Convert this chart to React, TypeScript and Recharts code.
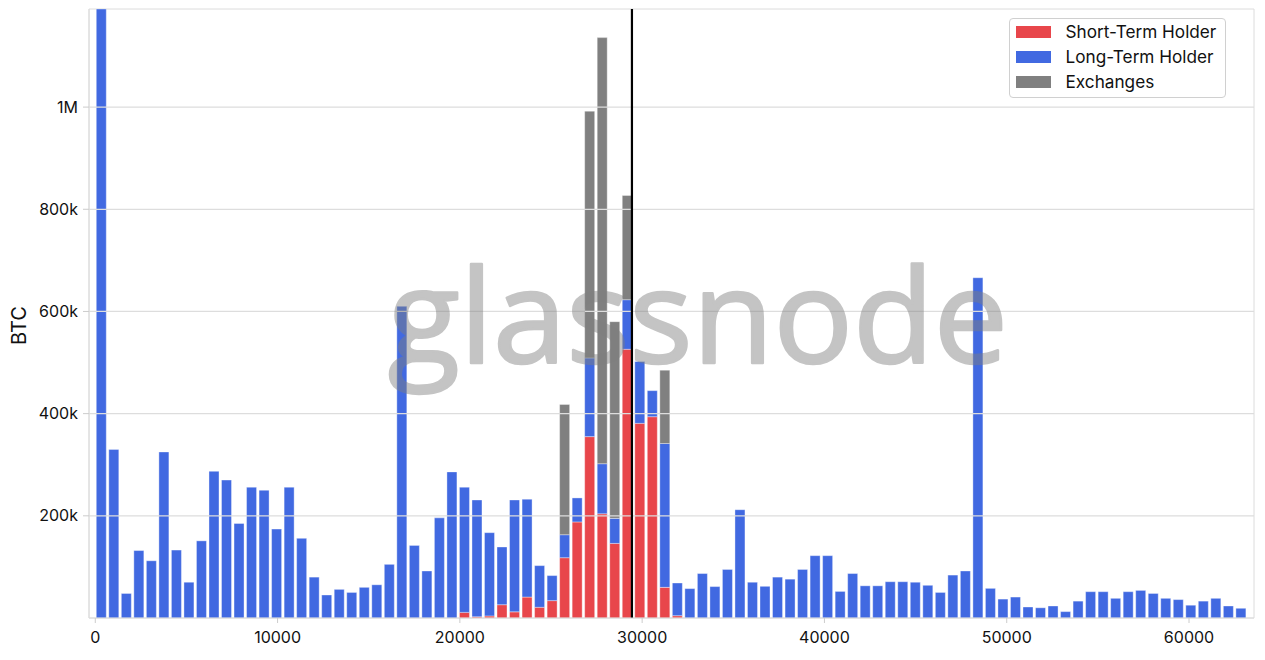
import React from 'react';
import { BarChart, Bar, XAxis, YAxis, ReferenceLine, ReferenceArea, Legend } from 'recharts';

// Price bucket centres (USD)
const priceBins = [
  343, 1030, 1717, 2404, 3091, 3778, 4465, 5152, 5839, 6526,
  7213, 7900, 8587, 9274, 9961, 10648, 11335, 12022, 12709, 13396,
  14083, 14770, 15457, 16144, 16831, 17518, 18205, 18892, 19579, 20266,
  20953, 21640, 22327, 23014, 23701, 24388, 25075, 25762, 26449, 27136,
  27823, 28510, 29197, 29884, 30571, 31258, 31945, 32632, 33319, 34006,
  34693, 35380, 36067, 36754, 37441, 38128, 38815, 39502, 40189, 40876,
  41563, 42250, 42937, 43624, 44311, 44998, 45685, 46372, 47059, 47746,
  48433, 49120, 49807, 50494, 51181, 51868, 52555, 53242, 53929, 54616,
  55303, 55990, 56677, 57364, 58051, 58738, 59425, 60112, 60799, 61486,
  62173, 62860,
];

// Supply in each bucket, thousands of BTC
const shortTermHolderK = [
  0, 0, 0, 0, 0, 0, 0, 0, 0, 0,
  0, 0, 0, 0, 0, 0, 0, 0, 0, 0,
  0, 0, 0, 0, 0, 0, 0, 0, 0, 11,
  2.5, 4, 26, 12, 41, 21, 34, 118, 188, 355,
  204, 146, 526, 381, 394, 60, 4.5, 0, 0, 0,
  0, 0, 0, 0, 0, 0, 0, 0, 0, 0,
  0, 0, 0, 0, 0, 0, 0, 0, 0, 0,
  0, 0, 0, 0, 0, 0, 0, 0, 0, 0,
  0, 0, 0, 0, 0, 0, 0, 0, 0, 0,
  0, 0,
];

const longTermHolderK = [
  1250, 330, 48, 132, 112, 325, 133, 70, 151, 287,
  270, 185, 256, 250, 174, 256, 156, 80, 45, 56,
  50, 60, 65, 105, 610, 142, 92, 196, 286, 245,
  228.5, 163, 113, 219, 191.5, 81.5, 49, 45, 47, 154,
  98, 49, 97, 121, 51, 281.5, 64, 57.5, 87, 61.5,
  95, 212, 70, 62, 80, 76, 95, 122, 122, 52,
  87, 63, 63, 71, 71, 70, 64, 50, 84, 92,
  666, 58, 37, 41, 21.5, 20, 23.5, 12.5, 33, 51.5,
  51.5, 38.5, 51.5, 54, 48, 38.5, 36, 25, 33, 38.5,
  23.5, 19,
];

const exchangesK = [
  0, 0, 0, 0, 0, 0, 0, 0, 0, 0,
  0, 0, 0, 0, 0, 0, 0, 0, 0, 0,
  0, 0, 0, 0, 0, 0, 0, 0, 0, 0,
  0, 0, 0, 0, 0, 0, 0, 255, 0, 483,
  834, 385, 204, 0, 0, 143.5, 0, 0, 0, 0,
  0, 0, 0, 0, 0, 0, 0, 0, 0, 0,
  0, 0, 0, 0, 0, 0, 0, 0, 0, 0,
  0, 0, 0, 0, 0, 0, 0, 0, 0, 0,
  0, 0, 0, 0, 0, 0, 0, 0, 0, 0,
  0, 0,
];

const xTicks = [0, 10000, 20000, 30000, 40000, 50000, 60000];
const yTicks = [200000, 400000, 600000, 800000, 1000000];
const xDomain = [-345, 63565];
const yDomain = [0, 1192000];
const currentPrice = 29440;

const seriesNames = ['Short-Term Holder', 'Long-Term Holder', 'Exchanges'];
const seriesColors = ['#e8464b', '#4169e1', '#808080'];

const data = priceBins.map((price, i) => ({
  price,
  sth: shortTermHolderK[i] * 1000,
  lth: longTermHolderK[i] * 1000,
  exch: exchangesK[i] * 1000,
}));

const FONT = 'Inter, "Noto Sans", sans-serif';

const formatY = (v: number) => (v >= 1000000 ? `${v / 1000000}M` : `${v / 1000}k`);

const renderLegend = (props: any) => {
  const payload = (props && props.payload) || [];
  const items = seriesNames.map((name, i) => {
    const p = payload.find((e: any) => e.value === name);
    return { name, color: p && p.color ? p.color : seriesColors[i] };
  });
  return (
    <div
      style={{
        boxSizing: 'border-box',
        width: 217,
        height: 80,
        border: '1px solid #d0d0d0',
        borderRadius: 4,
        background: 'rgba(255,255,255,0.85)',
        padding: '0 0 0 6px',
        fontFamily: FONT,
        fontSize: 17.2,
        color: '#111',
      }}
    >
      {items.map((it) => (
        <div key={it.name} style={{ display: 'flex', alignItems: 'center', height: 25 }}>
          <span style={{ display: 'inline-block', flex: 'none', width: 35, height: 12, background: it.color, marginRight: 14.5 }} />
          <span style={{ lineHeight: '25px', whiteSpace: 'nowrap' }}>{it.name}</span>
        </div>
      ))}
    </div>
  );
};

const renderYLabel = (props: any) => {
  const vb = props.viewBox || { x: 0, y: 0, width: 0, height: 0 };
  const cx = 10.5;
  const cy = vb.y + vb.height / 2 + 12;
  return (
    <text
      x={cx}
      y={cy}
      transform={`rotate(-90, ${cx}, ${cy})`}
      textAnchor="middle"
      dominantBaseline="central"
      fontFamily={FONT}
      fontSize={20}
      fill="#111"
    >
      BTC
    </text>
  );
};

export default function App() {
  const W = 1257;
  const H = 650;
  return (
    <div style={{ position: 'relative', width: W, height: H, fontFamily: FONT }}>
      <BarChart
        width={W}
        height={H}
        data={data}
        margin={{ top: 1, right: 11, bottom: 10, left: 0 }}
        barGap={0}
      >
        <XAxis
          dataKey="price"
          type="number"
          domain={xDomain}
          ticks={xTicks}
          allowDataOverflow
          interval={0}
          height={30}
          tickSize={5}
          tickMargin={9}
          axisLine={{ stroke: '#dcdcdc' }}
          tickLine={{ stroke: '#cccccc' }}
          tick={{ fill: '#111', fontSize: 16, fontFamily: FONT }}
        />
        <YAxis
          type="number"
          domain={yDomain}
          ticks={yTicks}
          allowDataOverflow
          interval={0}
          width={81}
          tickSize={6}
          tickMargin={5}
          tickFormatter={formatY}
          axisLine={{ stroke: '#dcdcdc' }}
          tickLine={{ stroke: '#cccccc' }}
          tick={{ fill: '#111', fontSize: 16, fontFamily: FONT }}
          label={{ content: renderYLabel }}
        />
        <Bar
          dataKey="sth"
          name={seriesNames[0]}
          stackId="s"
          fill={seriesColors[0]}
          barSize={10}
          stroke="#ffffff"
          strokeWidth={0.8}
          strokeOpacity={0.45}
          isAnimationActive={false}
        />
        <Bar
          dataKey="lth"
          name={seriesNames[1]}
          stackId="s"
          fill={seriesColors[1]}
          barSize={10}
          stroke="#ffffff"
          strokeWidth={0.8}
          strokeOpacity={0.45}
          isAnimationActive={false}
        />
        <Bar
          dataKey="exch"
          name={seriesNames[2]}
          stackId="s"
          fill={seriesColors[2]}
          barSize={10}
          stroke="#ffffff"
          strokeWidth={0.8}
          strokeOpacity={0.45}
          isAnimationActive={false}
        />
        {yTicks.map((t) => (
          <ReferenceLine key={t} y={t} stroke="#dddddd" strokeWidth={1.2} />
        ))}
        <ReferenceArea
          x1={xDomain[0]}
          x2={xDomain[1]}
          y1={yDomain[0]}
          y2={yDomain[1]}
          fill="none"
          fillOpacity={0}
          stroke="#dcdcdc"
          strokeWidth={1}
        />
        <ReferenceLine x={currentPrice} stroke="#000000" strokeWidth={2.2} />
        <Legend
          layout="vertical"
          align="center"
          verticalAlign="middle"
          content={renderLegend}
          wrapperStyle={{ left: 1001, top: 10, width: 217, height: 80 }}
        />
      </BarChart>
      <svg
        width={W}
        height={H}
        style={{ position: 'absolute', left: 0, top: 0, pointerEvents: 'none' }}
      >
        <g opacity={0.46}>
          <text
            x={380}
            y={355}
            fontFamily='"Open Sans", sans-serif'
            fontSize={130}
            fill="#7f7f7f"
            stroke="#7f7f7f"
            strokeWidth={2.5}
            strokeLinejoin="round"
            textLength={620}
            lengthAdjust="spacingAndGlyphs"
          >
            glassnode
          </text>
        </g>
      </svg>
    </div>
  );
}
